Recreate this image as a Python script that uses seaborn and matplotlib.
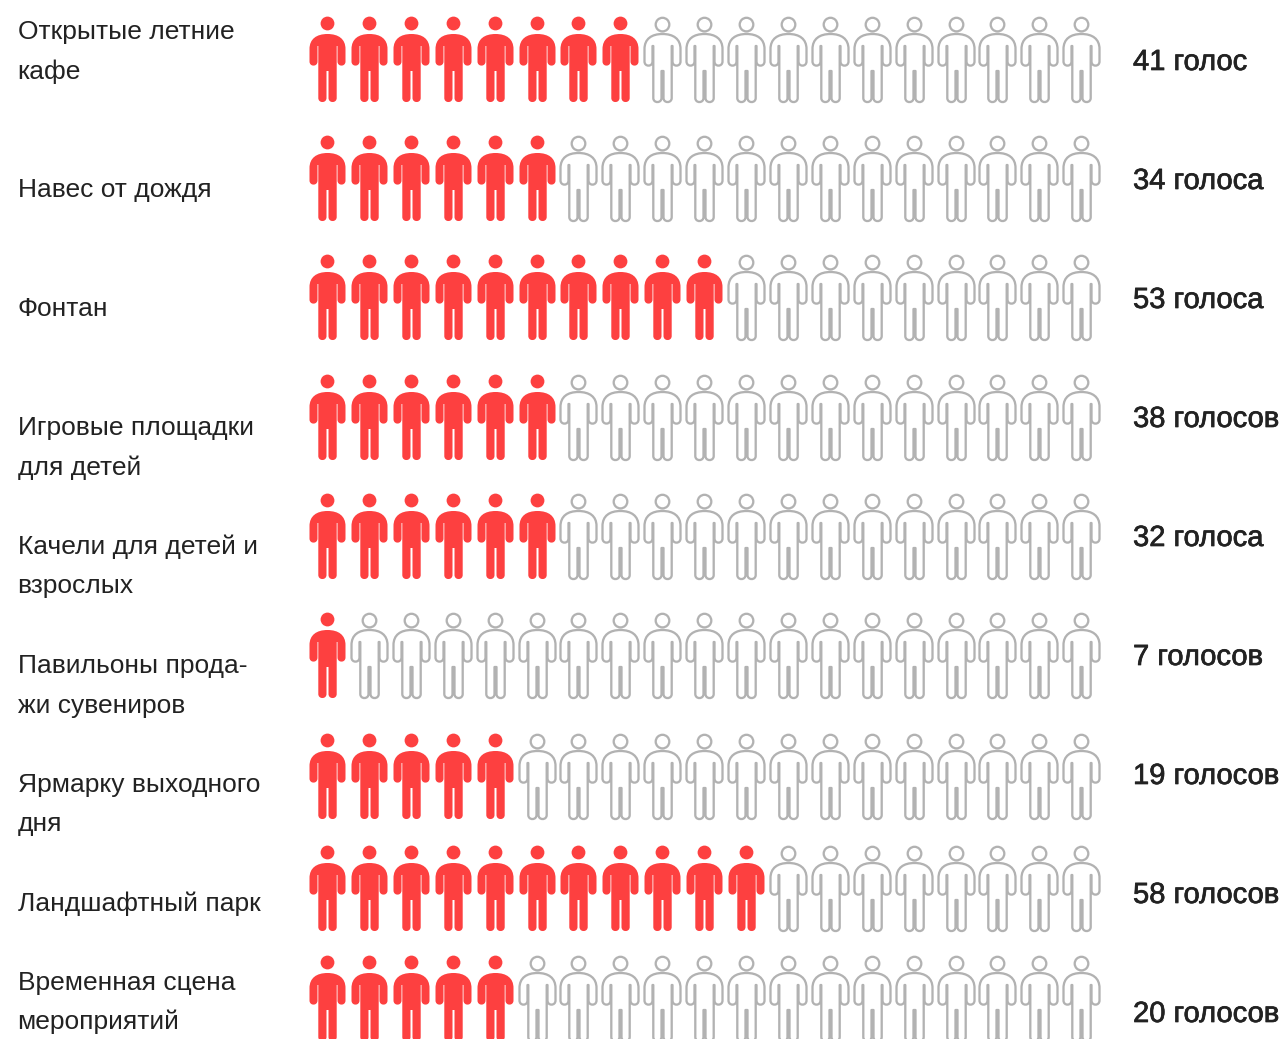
import numpy as np
import pandas as pd
import matplotlib.pyplot as plt
import seaborn as sns
from matplotlib.path import Path
from matplotlib.patheffects import withStroke

options = ['Открытые летние\nкафе', 'Навес от дождя', 'Фонтан', 'Игровые площадки\nдля детей',
           'Качели для детей и\nвзрослых', 'Павильоны прода-\nжи сувениров', 'Ярмарку выходного\nдня',
           'Ландшафтный парк', 'Временная сцена\nмероприятий']
vote_labels = ['41 голос', '34 голоса', '53 голоса', '38 голосов', '32 голоса',
               '7 голосов', '19 голосов', '58 голосов', '20 голосов']
filled_people = [8, 6, 10, 6, 6, 1, 5, 11, 5]
n_people = 19

# layout in pixels of the picture
row_tops = [16, 135, 254, 374, 493, 612, 733, 845, 955]
label_y = [39, 197, 316, 435, 554, 673, 792, 911, 990]
value_y = [70, 189, 308, 427, 546, 665, 784, 903, 1022]
line_gap = 39.5
first_col = 327
col_gap = 41.9
person_h = 87
RED = '#fd4040'
GREY = '#b2b2b2'
INK = '#222222'


def person_marker(head_r, head_y):
    # right half from the neck down to the crotch, then mirrored
    half = [(11, 17), (18, 22), (18, 32), (18, 44.5), (18, 50), (10, 50), (10, 44.5), (10, 29),
            (9.2, 29), (9.2, 81), (9.2, 86.4), (1, 86.4), (1, 81), (1, 54)]
    half_codes = [Path.CURVE4] * 3 + [Path.LINETO] + [Path.CURVE4] * 3 + [Path.LINETO] * 3 + \
                 [Path.CURVE4] * 3 + [Path.LINETO]
    verts = [(0, 17)] + half + [(-1, 54)]
    codes = [Path.MOVETO] + half_codes + [Path.LINETO]
    # walk back up the left side
    left = [(-x, y) for x, y in half[::-1][1:]]
    left_codes = [Path.LINETO, Path.CURVE4, Path.CURVE4, Path.CURVE4, Path.LINETO, Path.LINETO, Path.LINETO,
                  Path.CURVE4, Path.CURVE4, Path.CURVE4, Path.LINETO, Path.CURVE4, Path.CURVE4]
    verts += left + [(0, 17)]
    codes += left_codes + [Path.CURVE4]
    verts = [(x, person_h / 2 - y) for x, y in verts]
    body = Path(verts, codes)
    head = Path.circle((0, person_h / 2 - head_y), head_r)
    return Path.make_compound_path(body, head)


def marker_size(path):
    # matplotlib rescales a path marker to its largest coordinate
    biggest = np.abs(path.vertices).max()
    return (2 * biggest * 72 / 100) ** 2


rows = []
for r, top in enumerate(row_tops):
    for c in range(n_people):
        rows.append({'x': first_col + c * col_gap, 'y': top + person_h / 2, 'voted': c < filled_people[r]})
df = pd.DataFrame(rows)

sns.set_theme(style='white')
plt.rcParams['font.family'] = ['Liberation Sans', 'DejaVu Sans']

fig = plt.figure(figsize=(12.87, 10.39), dpi=100)
ax = fig.add_axes([0, 0, 1, 1])

solid = person_marker(6.9, 6.5)
hollow = person_marker(6.8, 7.6)
sns.scatterplot(data=df[df.voted], x='x', y='y', marker=solid, s=marker_size(solid),
                color=RED, edgecolor=RED, linewidth=0, ax=ax, legend=False)
sns.scatterplot(data=df[~df.voted], x='x', y='y', marker=hollow, s=marker_size(hollow),
                color='white', edgecolor=GREY, linewidth=1.65, ax=ax, legend=False)

for name, y in zip(options, label_y):
    for k, line in enumerate(name.split('\n')):
        ax.text(17.5, y + k * line_gap, line, fontsize=19, color=INK, va='baseline', ha='left')
# medium weight: the regular face with a thin stroke round it
for label, y in zip(vote_labels, value_y):
    ax.text(1133, y, label, fontsize=21, color=INK, va='baseline', ha='left',
            path_effects=[withStroke(linewidth=0.5, foreground=INK)])

ax.set_xlim(0, 1287)
ax.set_ylim(1039, 0)
ax.axis('off')
fig.savefig('out.png', dpi=100)
